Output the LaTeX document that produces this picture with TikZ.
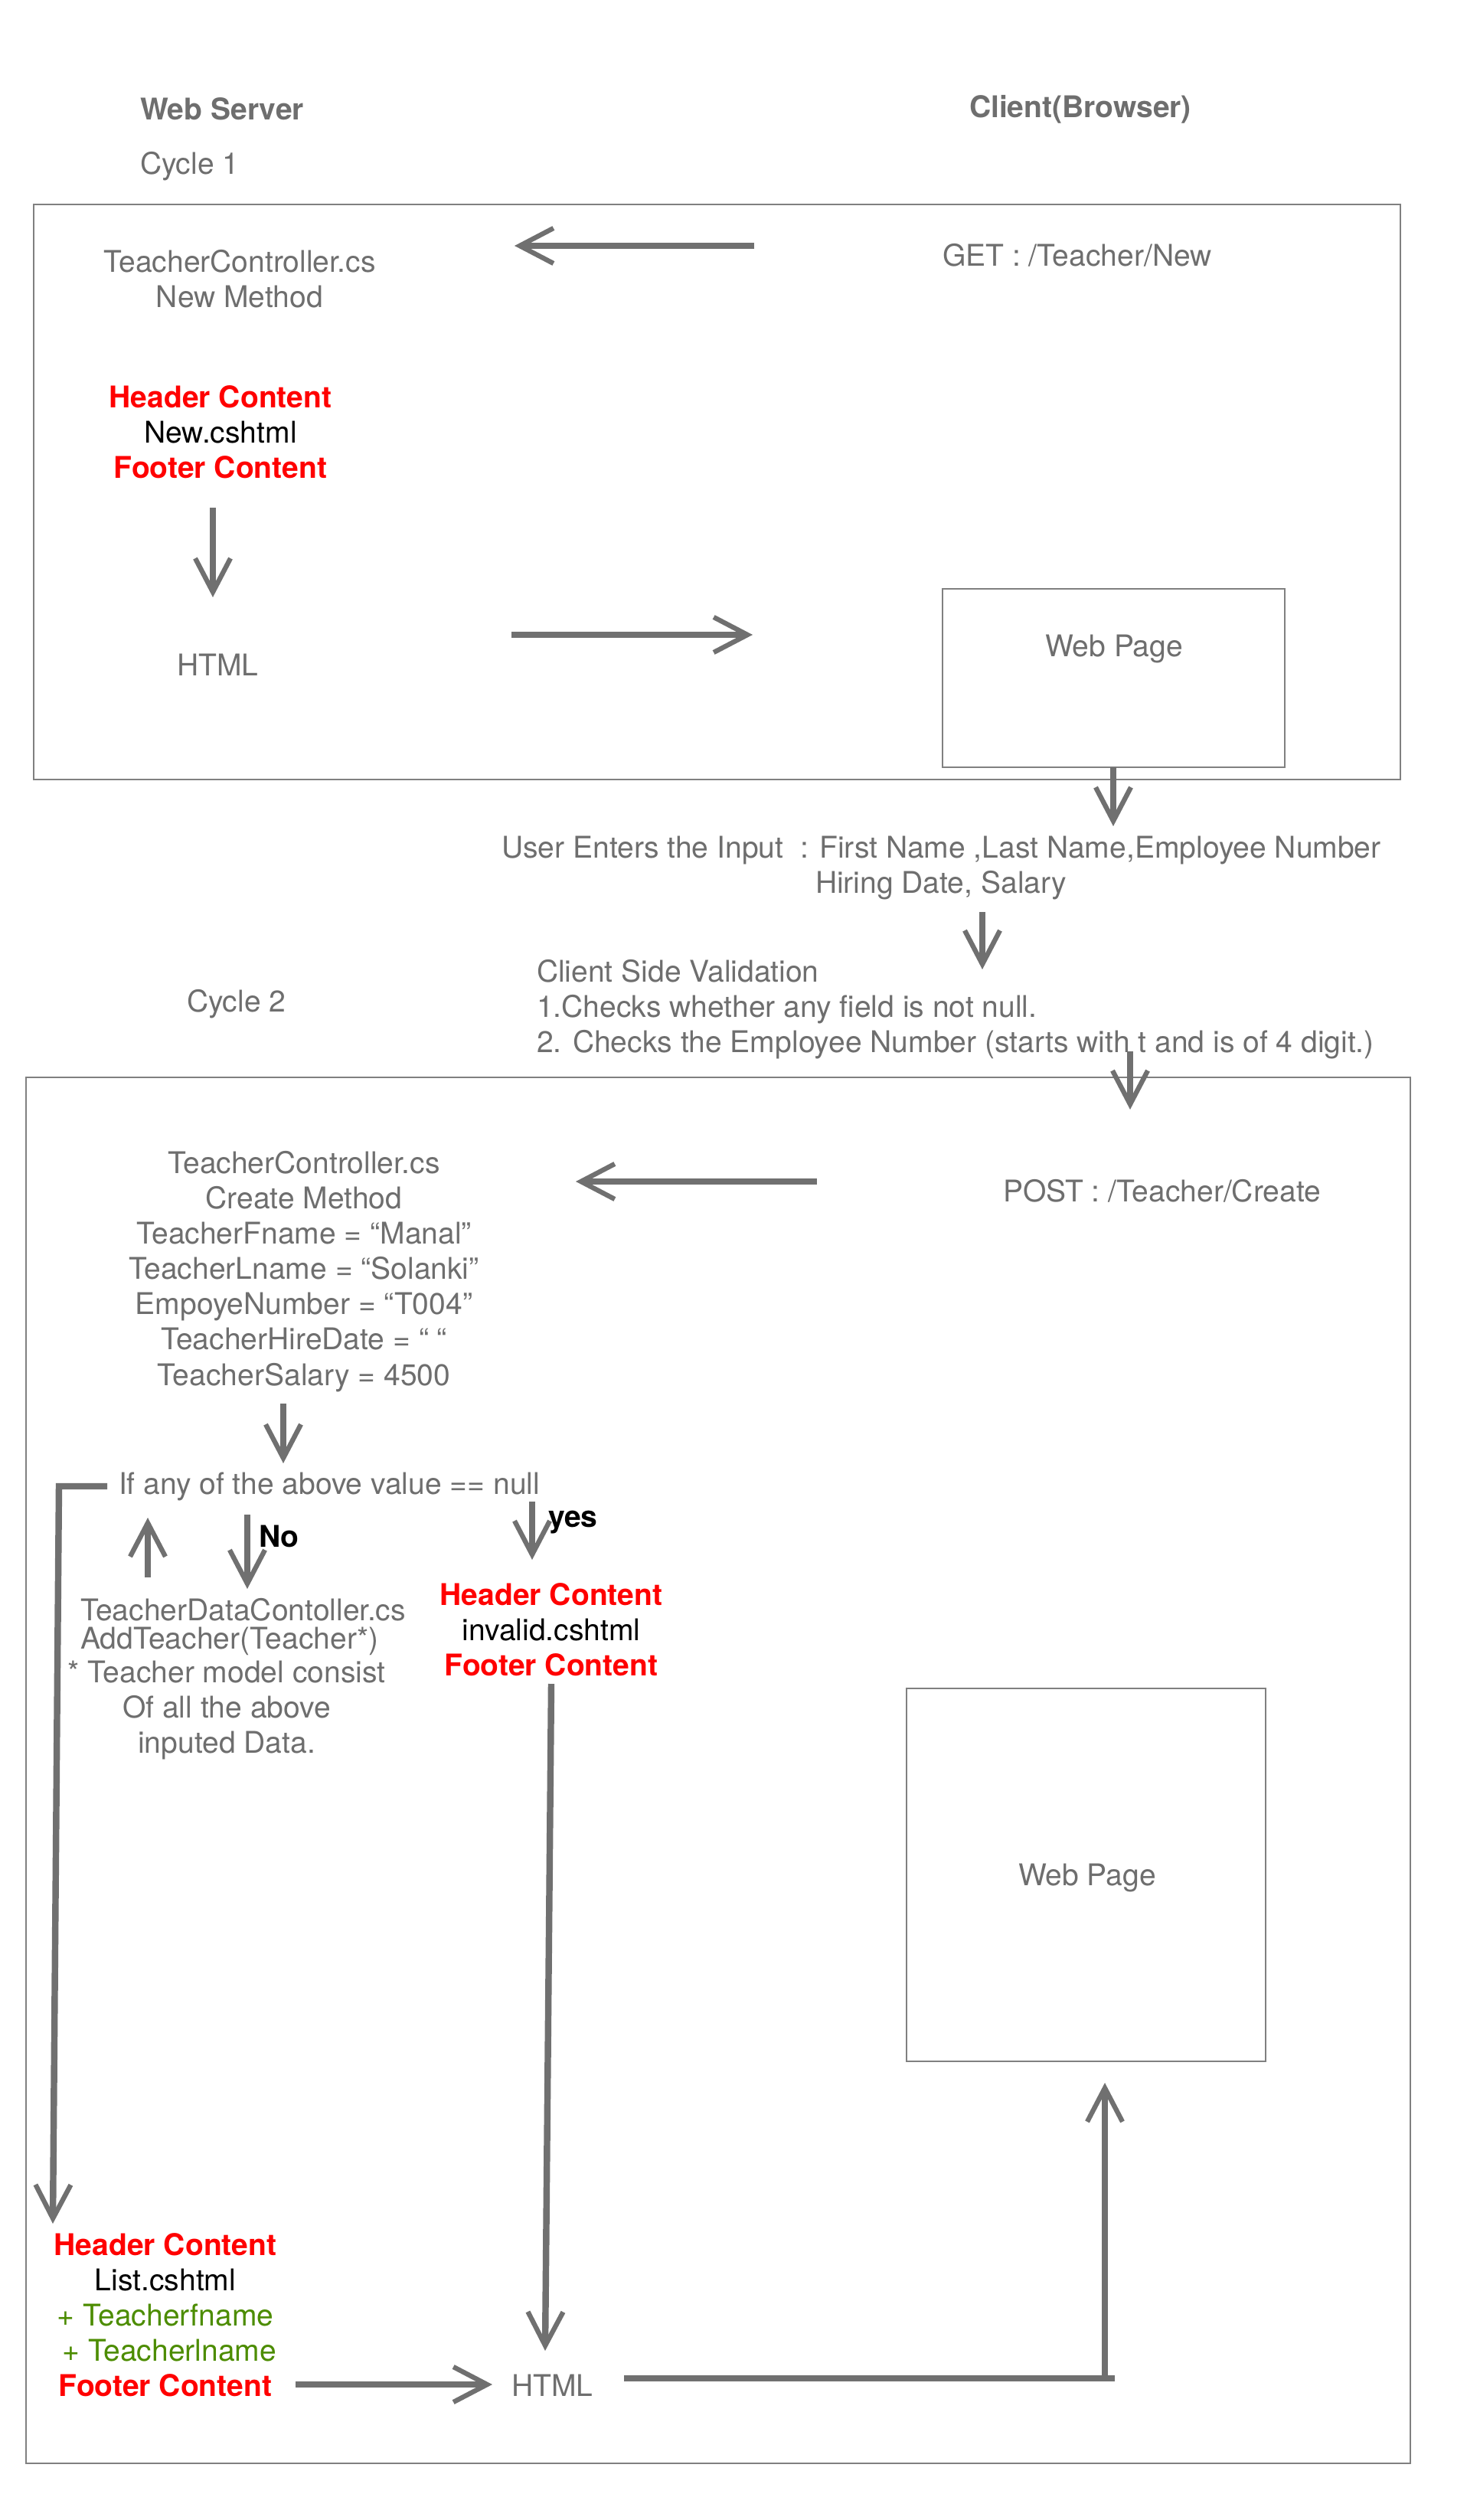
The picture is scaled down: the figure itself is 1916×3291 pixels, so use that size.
\documentclass[tikz,border=0pt]{standalone}
\usepackage{fontspec}
\setmainfont{TeX Gyre Heros}
\usetikzlibrary{arrows.meta}
\definecolor{txtgrey}{RGB}{110,110,110}
\definecolor{arrgrey}{RGB}{112,112,112}
\definecolor{boxgrey}{RGB}{128,128,128}
\definecolor{hcred}{RGB}{255,0,0}
\definecolor{tgreen}{RGB}{76,140,0}
\newcommand{\redb}[1]{{\color{hcred}\bfseries #1}}
\newcommand{\blk}[1]{{\color{black}#1}}
\newcommand{\grn}[1]{{\color{tgreen}#1}}
\begin{document}
\begin{tikzpicture}[x=0.01cm,y=-0.01cm,
  every node/.style={inner sep=0pt,outer sep=0pt,text=txtgrey,
    font=\fontsize{11.1pt}{13.1pt}\selectfont},
  boldtxt/.style={font=\fontsize{11.1pt}{13.1pt}\selectfont\bfseries},
  tightlines/.style={font=\fontsize{11.1pt}{10.6pt}\selectfont},
  arr/.style={draw=arrgrey,line width=2.4pt,line join=miter,
    -{Straight Barb[length=4.4mm,width=4.6mm,line width=1.8pt]}},
  plainline/.style={draw=arrgrey,line width=2.4pt,line join=miter},
  frame/.style={draw=boxgrey,line width=0.45pt},
  pagebox/.style={draw=boxgrey,line width=0.45pt,rectangle}]
\useasboundingbox (0,0) rectangle (1916,3291);

% ---------- frames and page boxes ----------
\draw[frame] (44,267) rectangle (1829,1018);
\draw[frame] (34,1407) rectangle (1842,3217);
\node[pagebox,minimum width=4.47cm,minimum height=2.33cm] (wp1) at (1454.5,885.5) {};
\node[pagebox,minimum width=4.69cm,minimum height=4.87cm] (wp2) at (1418.5,2448.5) {};

% ---------- texts (shifted slightly down as a group) ----------
\begin{scope}[yshift=-0.015cm]
\node[anchor=west,boldtxt] (ws) at (183,141) {Web Server};
\node[anchor=west,boldtxt] (cb) at (1266,141) {Client(Browser)};
\node[anchor=west] (cyc1) at (183,216) {Cycle 1};

\node[align=center] (ctrl1) at (313,363) {TeacherController.cs\\New Method};
\node[anchor=west] (get) at (1231,332) {GET : /Teacher/New};
\node[align=center] (newv) at (288,563) {\redb{Header Content}\\\blk{New.cshtml}\\\redb{Footer Content}};
\node[anchor=west] (html1) at (231,867) {HTML};
\node (wp1t) at (1455,846) {Web Page};

\node[anchor=west] (inp1) at (655,1109) {User Enters the Input\ \ : First Name ,Last Name,Employee Number};
\node[anchor=west] (inp2) at (1065,1155) {Hiring Date, Salary};
\node[anchor=west,align=left] (csv) at (701,1317) {Client Side Validation\\1.Checks whether any field is not null.\\2. Checks the Employee Number (starts with t and is of 4 digit.)};
\node[anchor=west] (cyc2) at (244,1310) {Cycle 2};

\node[align=center] (ctrl2) at (397,1659) {TeacherController.cs\\Create Method\\TeacherFname = “Manal”\\TeacherLname = “Solanki”\\EmpoyeNumber = “T004”\\TeacherHireDate = “ “\\TeacherSalary = 4500};
\node[anchor=west] (post) at (1310,1554) {POST : /Teacher/Create};
\node[anchor=west] (ifnull) at (155,1940) {If any of the above value == null};
\node[anchor=west,boldtxt,text=black] (no) at (338,2005) {No};
\node[anchor=west,boldtxt,text=black] (yes) at (716,1987) {yes};
\node[anchor=west,align=left,tightlines] (dc1) at (105,2123) {TeacherDataContoller.cs\\AddTeacher(Teacher*)};
\node[align=center] (dc2) at (296,2232) {* Teacher model consist\\Of all the above\\inputed Data.};
\node[align=center] (inv) at (720,2127) {\redb{Header Content}\\\blk{invalid.cshtml}\\\redb{Footer Content}};
\node (wp2t) at (1420,2451) {Web Page};
\node[align=center] (listv) at (216,3022) {\redb{Header Content}\\\blk{List.cshtml}\\\grn{+ Teacherfname}\\\grn{\ + Teacherlname}\\\redb{Footer Content}};
\node[anchor=west] (html2) at (668,3114) {HTML};
\end{scope}

% ---------- connector end points ----------
\coordinate (a1s) at (985,321);  \coordinate (a1e) at (672,321);
\coordinate (a2s) at (278,663);  \coordinate (a2e) at (278,780);
\coordinate (a3s) at (668,829);  \coordinate (a3e) at (983,829);
\coordinate (a4s) at (1454,1002); \coordinate (a4e) at (1454,1079);
\coordinate (a5s) at (1283,1191); \coordinate (a5e) at (1283,1266);
\coordinate (a6s) at (1476,1373); \coordinate (a6e) at (1476,1449);
\coordinate (a7s) at (1067,1543); \coordinate (a7e) at (752,1543);
\coordinate (a8s) at (370,1833); \coordinate (a8e) at (370,1911);
\coordinate (b0) at (140,1941); \coordinate (b1) at (77,1941); \coordinate (b2) at (69,2904);
\coordinate (a10s) at (193,2060); \coordinate (a10e) at (193,1982);
\coordinate (a11s) at (323,1978); \coordinate (a11e) at (323,2075);
\coordinate (a12s) at (695,1961); \coordinate (a12e) at (695,2037);
\coordinate (a13s) at (720,2199); \coordinate (a13e) at (712,3070);
\coordinate (a14s) at (386,3114); \coordinate (a14e) at (643,3114);
\coordinate (c0) at (815,3106); \coordinate (c1) at (1443,3106); \coordinate (c2) at (1443,2720);
\coordinate (c3) at (1456,3106);

% ---------- connectors ----------
\draw[arr] (a1s) -- (a1e);
\draw[arr] (a2s) -- (a2e);
\draw[arr] (a3s) -- (a3e);
\draw[arr] (a4s) -- (a4e);
\draw[arr] (a5s) -- (a5e);
\draw[arr] (a6s) -- (a6e);
\draw[arr] (a7s) -- (a7e);
\draw[arr] (a8s) -- (a8e);
\draw[arr] (b0) -- (b1) -- (b2);
\draw[arr] (a10s) -- (a10e);
\draw[arr] (a11s) -- (a11e);
\draw[arr] (a12s) -- (a12e);
\draw[arr] (a13s) -- (a13e);
\draw[arr] (a14s) -- (a14e);
\draw[plainline] (c0) -- (c3);
\draw[arr] (c1) -- (c2);
\end{tikzpicture}
\end{document}
